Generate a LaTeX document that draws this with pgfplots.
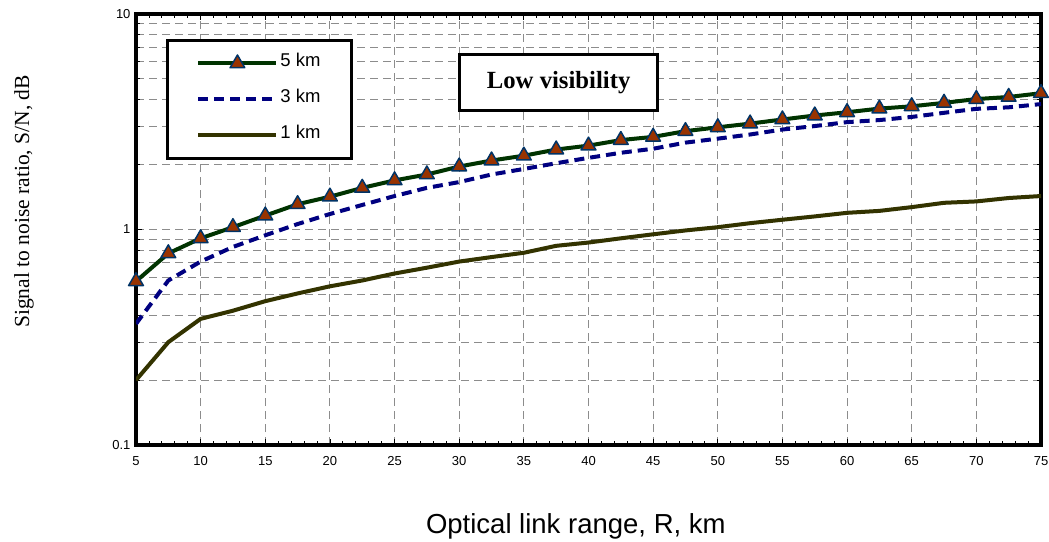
\documentclass[border=0pt]{standalone}
\usepackage{fontspec}
\setmainfont{Liberation Sans}
\newfontfamily\timesf{Liberation Serif}
\usepackage{pgfplots}
\pgfplotsset{compat=1.18}
\definecolor{gfive}{HTML}{003300}
\definecolor{navythree}{HTML}{000080}
\definecolor{oliveone}{HTML}{333300}
\definecolor{mfill}{HTML}{993300}
\definecolor{medge}{HTML}{003366}
\definecolor{gridgray}{HTML}{8C8C8C}
\begin{document}
\begin{tikzpicture}[x=1pt,y=1pt]
\path[use as bounding box] (0,0) rectangle (1049,541);
\begin{axis}[
  at={(136pt,96pt)}, anchor=south west,
  scale only axis, width=905pt, height=431pt,
  xmin=5, xmax=75, ymin=0.1, ymax=10, ymode=log,
  xtick={5,10,...,75}, minor x tick num=4,
  ytick={0.1,1,10}, yticklabels={0.1,1,10},
  /pgf/number format/assume math mode=true,
  tick label style={font=\fontsize{13}{15}\selectfont},
  tick align=inside,
  major tick length=6pt, minor tick length=4pt,
  every tick/.style={black, line width=0.8pt},
  axis line style={line width=4pt},
  xmajorgrids=true, ymajorgrids=true, yminorgrids=true,
  major grid style={gridgray, line width=1pt, dash pattern=on 8pt off 5pt},
  minor grid style={gridgray, line width=1pt, dash pattern=on 8pt off 5pt},
  xticklabel style={yshift=-8pt},
  yticklabel style={xshift=-2pt},
  xlabel={Optical link range, R, km},
  xlabel style={at={(axis description cs:0.486,0)}, anchor=base, yshift=-88pt, font=\fontsize{27.5}{30}\selectfont},
  ylabel={\timesf\fontsize{21.5}{24}\selectfont Signal to noise ratio, S/N, dB},
  ylabel style={at={(axis description cs:-0.1182,0.565)}, anchor=base},
  legend style={at={(axis description cs:0.0331,0.942)}, anchor=north west,
    draw=black, line width=3pt, fill=white,
    font=\fontsize{18.5}{20}\selectfont,
    inner xsep=29pt, inner ysep=11pt, row sep=12pt,
    nodes={inner sep=2pt, text depth=7pt, text height=13pt}},
  legend cell align=left,
  reverse legend,
  legend image code/.code={
    \draw[mark repeat=2,mark phase=2,#1] plot coordinates {(0pt,0pt) (39pt,0pt) (78pt,0pt)};
  },
  /tikz/every even column/.append style={column sep=2pt},
]
\addplot[oliveone, line width=4pt, line join=round] coordinates {
(5,0.20)(7.5,0.30)(10,0.385)(12.5,0.42)(15,0.465)(17.5,0.505)(20,0.545)(22.5,0.58)(25,0.625)(27.5,0.665)(30,0.71)(32.5,0.745)(35,0.78)(37.5,0.84)(40,0.87)(42.5,0.91)(45,0.95)(47.5,0.99)(50,1.025)(52.5,1.07)(55,1.11)(57.5,1.15)(60,1.195)(62.5,1.22)(65,1.27)(67.5,1.33)(70,1.35)(72.5,1.40)(75,1.43)
};
\addlegendentry{1 km}
\addplot[navythree, line width=4pt, dash pattern=on 10pt off 6pt] coordinates {
(5,0.365)(7.5,0.58)(10,0.71)(12.5,0.83)(15,0.94)(17.5,1.06)(20,1.18)(22.5,1.30)(25,1.43)(27.5,1.56)(30,1.66)(32.5,1.80)(35,1.91)(37.5,2.03)(40,2.15)(42.5,2.27)(45,2.37)(47.5,2.53)(50,2.64)(52.5,2.76)(55,2.91)(57.5,3.02)(60,3.15)(62.5,3.22)(65,3.33)(67.5,3.48)(70,3.63)(72.5,3.69)(75,3.82)
};
\addlegendentry{3 km}
\addplot[gfive, line width=4pt, line join=round, mark=triangle*, mark size=8.5pt,
  mark options={fill=mfill, draw=medge, line width=1.5pt, solid}] coordinates {
(5,0.575)(7.5,0.775)(10,0.91)(12.5,1.025)(15,1.16)(17.5,1.31)(20,1.42)(22.5,1.56)(25,1.69)(27.5,1.80)(30,1.96)(32.5,2.09)(35,2.20)(37.5,2.35)(40,2.45)(42.5,2.60)(45,2.69)(47.5,2.86)(50,2.98)(52.5,3.10)(55,3.24)(57.5,3.38)(60,3.50)(62.5,3.64)(65,3.73)(67.5,3.87)(70,4.03)(72.5,4.12)(75,4.29)
};
\addlegendentry{5 km}
\node[draw=black, line width=3pt, fill=white, minimum width=198pt, minimum height=56pt,
  font=\timesf\bfseries\fontsize{24.7}{26}\selectfont]
  at (axis description cs:0.467,0.84) {Low visibility};
\end{axis}
\end{tikzpicture}
\end{document}
